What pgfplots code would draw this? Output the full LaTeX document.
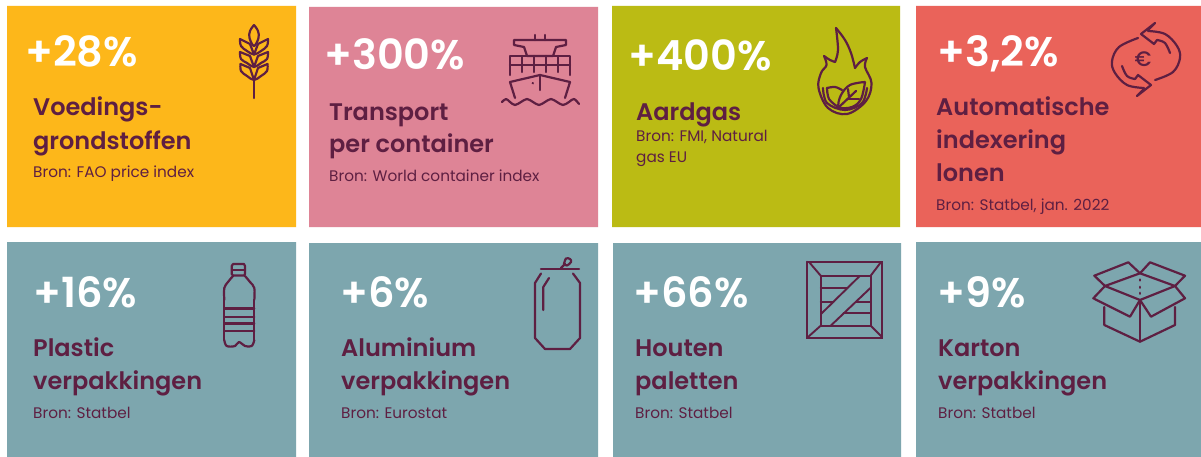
\documentclass[border=0pt]{standalone}
\usepackage{pgfplots}
\pgfplotsset{compat=1.18}
\usepackage{fontspec}
\setmainfont{Poppins}
\newfontfamily\fP{Poppins SemiBold}
\newfontfamily\fT{Poppins SemiBold}
\newfontfamily\fS{Poppins}
\newfontfamily\fE{Poppins Medium}
\definecolor{amber}{HTML}{FDB71A}
\definecolor{rose}{HTML}{DE8496}
\definecolor{olive2}{HTML}{BBBB14}
\definecolor{coral}{HTML}{EA635A}
\definecolor{teal2}{HTML}{7DA6AE}
\definecolor{plum}{HTML}{5E1F42}
\newcommand{\Rct}[5]{\addplot[fill=#1,draw=none,forget plot] coordinates {(#2,#3)(#4,#3)(#4,#5)(#2,#5)(#2,#3)};}
\newcommand{\ic}[1]{\addplot[draw=plum,line width=2.2pt,no marks,line join=round,line cap=round,forget plot] coordinates {#1};}
\newcommand{\ics}[1]{\addplot[draw=plum,line width=2.2pt,no marks,line join=round,line cap=round,forget plot,smooth,tension=0.6] coordinates {#1};}
\newcommand{\ict}[1]{\addplot[draw=plum,line width=1.9pt,no marks,forget plot,line cap=round] coordinates {#1};}
\newcommand{\Pc}[3]{\node[anchor=base west,inner sep=0,text=white] at (axis cs:#1,#2) {\fontsize{41.5}{42}\fP #3};}
\newcommand{\Ti}[3]{\node[anchor=base west,inner sep=0,text=plum] at (axis cs:#1,#2) {\fontsize{24}{24}\fT #3};}
\newcommand{\So}[3]{\node[anchor=base west,inner sep=0,text=plum] at (axis cs:#1,#2) {\fontsize{15.3}{15.3}\fS #3};}
\begin{document}
\begin{tikzpicture}
\begin{axis}[scale only axis,width=1201pt,height=457pt,xmin=0,xmax=1201,ymin=0,ymax=457,y dir=reverse,hide axis,clip=true]
\Rct{white}{0}{0}{1201}{457}
\Rct{amber}{7}{6}{296}{227}
\Rct{rose}{309}{7}{598}{227}
\Rct{olive2}{612}{6}{900}{227}
\Rct{coral}{916}{6}{1201}{227}
\Rct{teal2}{7}{242}{296}{457}
\Rct{teal2}{309}{243}{598}{457}
\Rct{teal2}{613}{243}{901}{457}
\Rct{teal2}{916}{242}{1201}{457}
% wheat
\ic{(254,80)(254,98)}
\ics{(254,25)(250,31)(249.5,38)(254,46)(258.5,38)(258,31)(254,25)}
\ics{(240,39)(241,46)(247,51)(254,54.5)(261,51)(267,46)(268,39)}
\ic{(240,39)(250,44)(254,54.5)(258,44)(268,39)}
\ics{(240,52)(241,59)(247,63)(254,67)(261,63)(267,59)(268,52)}
\ic{(240,52)(250,56)(254,67)(258,56)(268,52)}
\ics{(240.5,64)(241,71)(247,76)(254,80)(261,76)(267,71)(267.5,64)}
\ic{(240.5,64)(250,68)(254,80)(258,68)(267.5,64)}
% ship
\ic{(535,35)(535,40)} \ic{(545,35)(545,40)}
\ic{(514,40)(566,40)(566,45)(556,47)(553,56)(527,56)(524,47)(514,45)(514,40)}
\ic{(510,75)(510,56)(570,56)(570,75)}
\ic{(510,65)(570,65)}
\ic{(522,56)(522,72)} \ic{(534,56)(534,72)} \ic{(546,56)(546,72)} \ic{(558,56)(558,72)}
\ic{(515,98)(510,82)(540,75)(570,82)(565,98)}
\ic{(540,75)(540,90)}
\ic{(532.7,83)(532.9,83.4)}
\ics{(502,102)(506,99)(510,102)(515,105)(521,102)(527,99)(533,102)(539,105)(545,102)(551,99)(557,102)(563,105)(569,102)(574,99)(579,104)}
% flame
\ics{(836,28)(845,40)(851,53)(855,68)}
\ics{(855,68)(860,62)(867,58)}
\ics{(867,58)(865,67)(871.5,83)(866,101)(847,114)(828,108)(818.5,88)(821,73)(826.5,65)(824,56)}
\ics{(824,56)(830,60)(835,62)}
\ics{(835,62)(838,50)(836,28)}
\ics{(823,88)(827,103)(845,110)(862,103)(867,88)}
\ics{(865,82)(850,85)(841,95)(839,107)(852,107)(861,99)(865,82)}
\ics{(827,88)(835,87)(842,90)}
\ics{(827,88)(829,99)(838,107)}
\ic{(839,107)(856,91)} \ic{(849,97)(848,89)} \ic{(848,99)(859,99)}
% rotate arrows
\ics{(1148,31)(1165,34)(1177,46)(1180,58)(1173,72)(1155,80)}
\ics{(1157,40)(1165,43)(1170,53)}
\ic{(1148,30)(1155,23)(1141,34)(1154,44)(1157,40)}
\ics{(1138,38)(1119,47)(1112,61)(1115,73)(1127,85)(1144,88)}
\ics{(1135,79)(1127,76)(1122,66)}
\ic{(1144,89)(1137,96)(1151,85)(1138,75)(1135,79)}
% bottle
\ic{(233,264)(244,264)(245,266)(245,274)(244,275.5)(233,275.5)(231.7,274)(231.7,266)(233,264)}
\ic{(232,270)(245,270)}
\ics{(233,276)(228,282)(224.3,288)(224.3,300)}
\ics{(245,276)(250,282)(254.3,288)(254.3,300)}
\ic{(224.3,300)(224.3,340)} \ic{(254.3,300)(254.3,340)}
\ics{(224.3,340)(226.7,346)(235,346)(239,342)(245,346)(251.7,346)(254.3,340)}
\ic{(224.3,308.5)(254.3,308.5)} \ic{(224.3,316.7)(254.3,316.7)} \ic{(224.3,323.5)(254.3,323.5)} \ic{(224.3,330.7)(254.3,330.7)}
% can
\ic{(541,269)(579,269)}
\ics{(564,264)(566,258.5)(570,259)(571,262)(567,265.5)(564,264)}
\ic{(561,268)(565,264)}
\ic{(541,273.5)(535,283)(535,338)(545,349)(570,349)(580,338)(580,283)(573,273.5)}
\ic{(549,278)(543.3,287)(543.3,310)}
% crate
\ict{(807.3,261.7)(882.3,261.7)(882.3,337.7)(807.3,337.7)(807.3,261.7)}
\ict{(820.7,275.7)(870.7,275.7)(870.7,325.7)(820.7,325.7)(820.7,275.7)}
\ict{(809,262)(820.7,275.7)}
\ict{(881,262)(870.7,275.7)}
\ict{(808,337)(820.7,325.7)}
\ict{(882,337)(870.7,325.7)}
\ict{(820.7,314.3)(860,275.7)}
\ict{(830.7,325.7)(870.7,287.7)}
\ict{(820.7,287.7)(847.3,287.7)}
\ict{(820.7,301.7)(833.3,301.7)}
\ict{(856,301.7)(870.7,301.7)}
\ict{(843.7,313.3)(870.7,313.3)}
% box
\ic{(1105,286)(1094.3,275.7)(1128.3,262.3)(1140,273.3)(1150,262.3)(1185,275.7)(1175,286)}
\ic{(1140,273.3)(1175,286)(1140,300)(1105,286)(1140,273.3)}
\ic{(1105,286)(1093.3,298.3)(1130,316.7)(1140,300)(1151,316.7)(1185,298.3)(1175,286)}
\ic{(1104.3,307)(1104.3,325)(1140,341.7)(1175,325)(1175,307)}
\ic{(1140,300)(1140,341.7)}
\ic{(1140,279.5)(1140,280.5)} \ic{(1140,286.8)(1140,287.8)} \ic{(1140,292.8)(1140,293.8)}
% texts
\Pc{25}{67}{+28\%}
\Pc{324}{70}{+300\%}
\Pc{628}{71}{+400\%}
\Pc{937}{67}{+3,2\%}
\Pc{33}{307}{+16\%}
\Pc{340}{307}{+6\%}
\Pc{633}{307}{+66\%}
\Pc{937}{307}{+9\%}
\Ti{33}{116}{Voedings-}
\Ti{33}{150}{grondstoffen}
\So{33}{178}{Bron: FAO price index}
\Ti{329}{121}{Transport}
\Ti{329}{153}{per container}
\So{329}{182}{Bron: World container index}
\Ti{636}{121}{Aardgas}
\So{636}{142}{Bron: FMI, Natural}
\So{636}{163}{gas EU}
\Ti{936}{116}{Automatische}
\Ti{936}{149}{indexering}
\Ti{936}{182}{lonen}
\So{936}{210}{Bron: Statbel, jan. 2022}
\Ti{33}{356}{Plastic}
\Ti{33}{389}{verpakkingen}
\So{33}{418}{Bron: Statbel}
\Ti{341}{356}{Aluminium}
\Ti{341}{389}{verpakkingen}
\So{341}{418}{Bron: Eurostat}
\Ti{635}{356}{Houten}
\Ti{635}{389}{paletten}
\So{635}{418}{Bron: Statbel}
\Ti{938}{356}{Karton}
\Ti{938}{389}{verpakkingen}
\So{938}{418}{Bron: Statbel}
\node[anchor=center,inner sep=0,text=plum] at (axis cs:1143,59) {\fontsize{21}{21}\fE €};
\end{axis}
\end{tikzpicture}
\end{document}
